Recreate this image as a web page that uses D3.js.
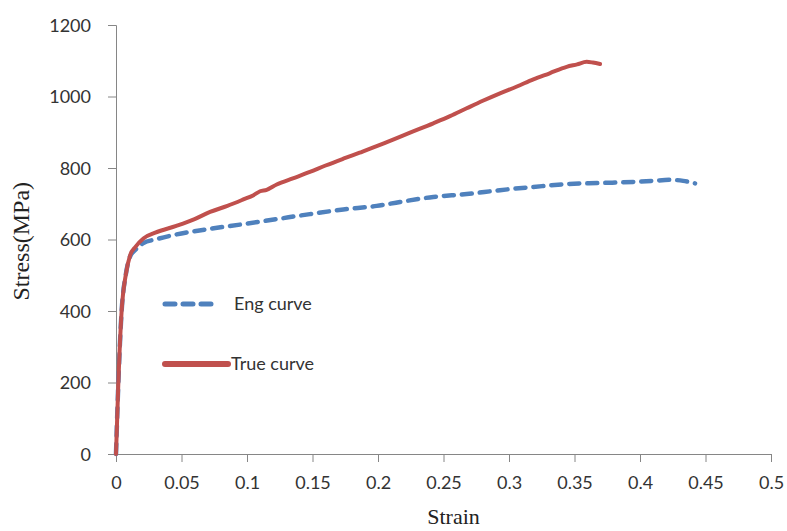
<!DOCTYPE html>
<html>
<head>
<meta charset="utf-8">
<script src="https://cdn.jsdelivr.net/npm/d3@7"></script>
<style>
  body { margin: 0; background: #fff; }
  svg { display: block; }
</style>
</head>
<body>
<svg id="chart" width="787" height="531"></svg>
<script>
// strain / stress readings
const trueStrain = [0, 0.0018, 0.0043, 0.0074, 0.0107, 0.015, 0.0209, 0.030, 0.046, 0.060, 0.0718, 0.085, 0.0972, 0.105, 0.110, 0.115, 0.1227, 0.135, 0.148, 0.160, 0.1735, 0.186, 0.199, 0.212, 0.224, 0.2422, 0.255, 0.2677, 0.280, 0.2931, 0.306, 0.3186, 0.331, 0.344, 0.352, 0.3593, 0.364, 0.3695];
const trueStress = [0, 200, 400, 500, 555, 580, 603, 619, 638, 657, 677, 694, 712, 724, 735, 739, 754, 771, 789, 807, 826, 843, 861, 880, 898, 925, 945, 967, 988, 1009, 1028, 1048, 1065, 1083, 1090, 1097, 1095, 1091];

const engStrain = [0, 0.0018, 0.0043, 0.0074, 0.0107, 0.015, 0.0209, 0.030, 0.046, 0.0718, 0.0972, 0.1227, 0.148, 0.1735, 0.199, 0.2168, 0.2422, 0.2677, 0.2931, 0.3186, 0.344, 0.3695, 0.395, 0.410, 0.4229, 0.433, 0.442];
const engStress = [0, 200, 400, 500, 552, 572, 590, 600, 614, 630, 643, 657, 671, 684, 694, 705, 719, 727, 738, 747, 755, 758, 761, 764, 767, 764, 757];

const xTicks = [0, 0.05, 0.1, 0.15, 0.2, 0.25, 0.3, 0.35, 0.4, 0.45, 0.5];
const yTicks = [0, 200, 400, 600, 800, 1000, 1200];

const seriesNames = ['Eng curve', 'True curve'];
const seriesColors = ['#4f81bd', '#c0504d'];

const svg = d3.select('#chart');
const margin = {left: 116, right: 16, top: 25, bottom: 77};
const width = 787 - margin.left - margin.right;
const height = 531 - margin.top - margin.bottom;

const x = d3.scaleLinear().domain([0, 0.5]).range([margin.left, margin.left + width]);
const y = d3.scaleLinear().domain([0, 1200]).range([margin.top + height, margin.top]);

const axisColor = '#868686';
const tickFont = 'Lato, "Open Sans", sans-serif';
const titleFont = '"Liberation Serif", "Times New Roman", serif';

// x axis
const gx = svg.append('g')
    .attr('transform', `translate(0,${y(0)})`)
    .call(d3.axisBottom(x).tickValues(xTicks).tickFormat(d3.format('')).tickSizeOuter(0).tickSize(8).tickPadding(14));
// y axis
const gy = svg.append('g')
    .attr('transform', `translate(${x(0)},0)`)
    .call(d3.axisLeft(y).tickValues(yTicks).tickFormat(d3.format('d')).tickSizeOuter(0).tickSize(8).tickPadding(17));

[gx, gy].forEach(g => {
    g.select('.domain').attr('stroke', axisColor);
    g.selectAll('.tick line').attr('stroke', axisColor);
    g.selectAll('.tick text')
        .attr('fill', '#333')
        .style('font-family', tickFont)
        .style('font-size', '18px');
});
gy.selectAll('.tick text').attr('dy', '0.35em');

// axis titles
svg.append('text')
    .attr('x', x(0.25) + 10)
    .attr('y', 524)
    .attr('text-anchor', 'middle')
    .style('font-family', titleFont)
    .style('font-size', '22px')
    .attr('fill', '#222')
    .text('Strain');

svg.append('text')
    .attr('transform', `translate(29,${y(595)}) rotate(-90)`)
    .attr('text-anchor', 'middle')
    .style('font-family', titleFont)
    .style('font-size', '24px')
    .attr('fill', '#222')
    .text('Stress(MPa)');

const line = d3.line()
    .x(d => x(d[0]))
    .y(d => y(d[1]))
    .curve(d3.curveMonotoneX);

const engData = d3.zip(engStrain, engStress);
const trueData = d3.zip(trueStrain, trueStress);

// eng curve underneath, true curve on top (the shared elastic part reads as solid red)
svg.append('path')
    .datum(engData)
    .attr('d', line)
    .attr('fill', 'none')
    .attr('stroke', seriesColors[0])
    .attr('stroke-width', 4.5)
    .attr('stroke-dasharray', '10,8')
    .attr('stroke-linecap', 'round');

svg.append('path')
    .datum(trueData)
    .attr('d', line)
    .attr('fill', 'none')
    .attr('stroke', seriesColors[1])
    .attr('stroke-width', 4)
    .attr('stroke-linejoin', 'round')
    .attr('stroke-linecap', 'round');

// legend
const legend = svg.append('g');
const legendRows = [
    {name: seriesNames[0], color: seriesColors[0], dash: '10,8', x2: 219, tx: 234, y: 304},
    {name: seriesNames[1], color: seriesColors[1], dash: null, x2: 228, tx: 231, y: 364}
];
legendRows.forEach(r => {
    legend.append('line')
        .attr('x1', 165).attr('x2', r.x2)
        .attr('y1', r.y).attr('y2', r.y)
        .attr('stroke', r.color)
        .attr('stroke-width', r.dash ? 5 : 6)
        .attr('stroke-linecap', 'round')
        .attr('stroke-dasharray', r.dash);
    legend.append('text')
        .attr('x', r.tx)
        .attr('y', r.y)
        .attr('dy', '0.35em')
        .style('font-family', tickFont)
        .style('font-size', '18px')
        .attr('fill', '#333')
        .text(r.name);
});
</script>
</body>
</html>
